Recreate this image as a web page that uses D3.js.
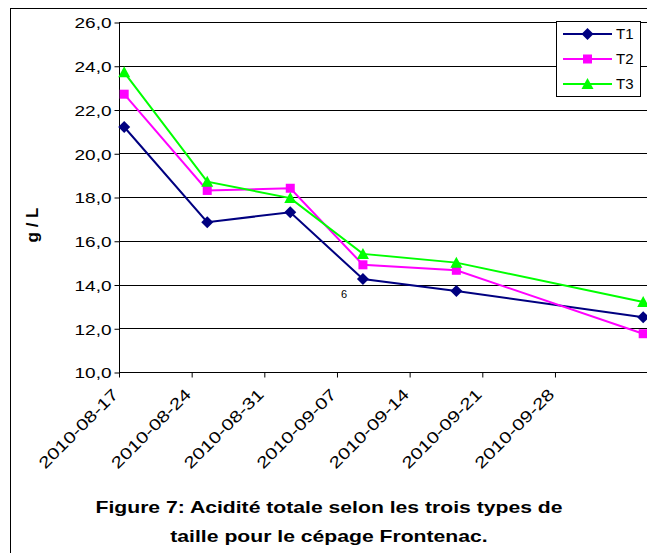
<!DOCTYPE html>
<html><head><meta charset="utf-8">
<script src="https://cdn.jsdelivr.net/npm/d3@7"></script>
<style>body{margin:0;background:#fff} svg{display:block} text{font-family:"Liberation Sans",Arial,sans-serif;fill:#000}</style>
</head><body><svg id="c" width="647" height="553"></svg>
<script>
const dates = ["2010-08-17","2010-08-25","2010-09-02","2010-09-09","2010-09-18","2010-10-06"];
const t1 = [21.2, 16.85, 17.3, 14.25, 13.7, 12.5];
const t2 = [22.7, 18.3, 18.4, 14.9, 14.65, 11.75];
const t3 = [23.7, 18.7, 17.95, 15.4, 15.0, 13.2];
const seriesNames = ["T1","T2","T3"];
const colors = ["#000080","#FF00FF","#00FF00"];
const markers = ["diamond","square","triangle"];
const yTicks = [10,12,14,16,18,20,22,24,26];
const xTicks = ["2010-08-17","2010-08-24","2010-08-31","2010-09-07","2010-09-14","2010-09-21","2010-09-28"];
const xDomain = ["2010-08-17","2010-10-08"];
const title = ["Figure 7: Acidité totale selon les trois types de","taille pour le cépage Frontenac."];
const yLabel = "g / L";
const note = "6";

const parse = d3.utcParse("%Y-%m-%d");
const svg = d3.select("#c");
const L = 119, T = 22, B = 372;
const x = d3.scaleUtc().domain(xDomain.map(parse)).range([L, L + 52*10.38]);
const y = d3.scaleLinear().domain([10,26]).range([B, T]);
const halfDay = (x(parse("2010-08-18")) - x(parse("2010-08-17")))/2;
const R = x.range()[1];

// outer border
svg.append("rect").attr("x",10.5).attr("y",8.5).attr("width",700).attr("height",600)
  .attr("fill","#fff").attr("stroke","#000").attr("stroke-width",1);

// gridlines
svg.append("g").selectAll("line").data(yTicks.filter(v=>v>10)).join("line")
  .attr("x1",L).attr("x2",R).attr("y1",d=>Math.round(y(d))+0.5).attr("y2",d=>Math.round(y(d))+0.5)
  .attr("stroke","#000").attr("stroke-width",1);

// y axis
const fmt = d => d3.format(".1f")(d).replace(".", ",");
const ya = svg.append("g").attr("transform",`translate(${L+0.5},0.5)`)
  .call(d3.axisLeft(y).tickValues(yTicks).tickSize(5).tickSizeOuter(0).tickFormat(fmt));
ya.selectAll("path,line").attr("stroke","#000");
ya.selectAll("text").attr("font-size",15).attr("x",-8).attr("dy","0.35em")
  .attr("textLength",37).attr("lengthAdjust","spacingAndGlyphs");
ya.select(".domain").remove();
svg.append("line").attr("x1",L+0.5).attr("x2",L+0.5).attr("y1",T).attr("y2",B+1).attr("stroke","#000");

// x axis
const xa = svg.append("g").attr("transform",`translate(0,${Math.round(B)+0.5})`)
  .call(d3.axisBottom(x).tickValues(xTicks.map(parse)).tickSize(5).tickSizeOuter(0).tickFormat(d3.utcFormat("%Y-%m-%d")));
xa.select(".domain").attr("stroke","#000").attr("d",`M${L},0H${R}`);
xa.selectAll(".tick line").attr("stroke","#000");
xa.selectAll(".tick text").attr("font-size",16).attr("text-anchor","end")
  .attr("transform","translate(-8,15) rotate(-45)").attr("x",0).attr("y",0).attr("dy","0.7em")
  .attr("textLength",105).attr("lengthAdjust","spacingAndGlyphs");

// series
const series = [t1,t2,t3];
const line = d3.line().x((d,i)=>x(parse(dates[i]))+halfDay).y(d=>y(d));
function marker(g, type, color, cx, cy){
  if(type==="diamond"){
    g.append("path").attr("d",`M${cx},${cy-6}L${cx+6},${cy}L${cx},${cy+6}L${cx-6},${cy}Z`).attr("fill",color);
  } else if(type==="square"){
    g.append("rect").attr("x",cx-4.5).attr("y",cy-4.5).attr("width",9).attr("height",9).attr("fill",color);
  } else {
    g.append("path").attr("d",`M${cx},${cy-6}L${cx+6},${cy+5}L${cx-6},${cy+5}Z`).attr("fill",color);
  }
}
series.forEach((s,k)=>{
  svg.append("path").datum(s).attr("d",line).attr("fill","none").attr("stroke",colors[k]).attr("stroke-width",2);
  const g = svg.append("g");
  s.forEach((v,i)=>marker(g, markers[k], colors[k], x(parse(dates[i]))+halfDay, y(v)));
});

// note
svg.append("text").attr("x",344).attr("y",298).attr("font-size",11).attr("text-anchor","middle").text(note);

// legend
const lg = svg.append("g");
lg.append("rect").attr("x",556.5).attr("y",21.5).attr("width",84).attr("height",75).attr("fill","#fff").attr("stroke","#000");
seriesNames.forEach((n,k)=>{
  const cy = 34 + k*25;
  lg.append("line").attr("x1",563).attr("x2",612).attr("y1",cy).attr("y2",cy).attr("stroke",colors[k]).attr("stroke-width",2);
  marker(lg, markers[k], colors[k], 587.5, cy);
  lg.append("text").attr("x",616).attr("y",cy).attr("dy","0.36em").attr("font-size",15).text(n);
});

// y label
svg.append("text").attr("transform","translate(38,225) rotate(-90)").attr("text-anchor","middle")
  .attr("font-size",17).attr("font-weight","bold").text(yLabel);

// title
const tl = svg.append("g");
const tys = [513, 542];
const tt = title.map((t,i)=>tl.append("text").attr("x",329).attr("y",tys[i]).attr("text-anchor","middle")
  .attr("font-size",17).attr("font-weight","bold").text(t));
const len0 = tt[0].node().getComputedTextLength();
const k = 467/len0;
tt.forEach(t=>{ const l = t.node().getComputedTextLength(); t.attr("textLength", l*k).attr("lengthAdjust","spacingAndGlyphs"); });
</script></body></html>
